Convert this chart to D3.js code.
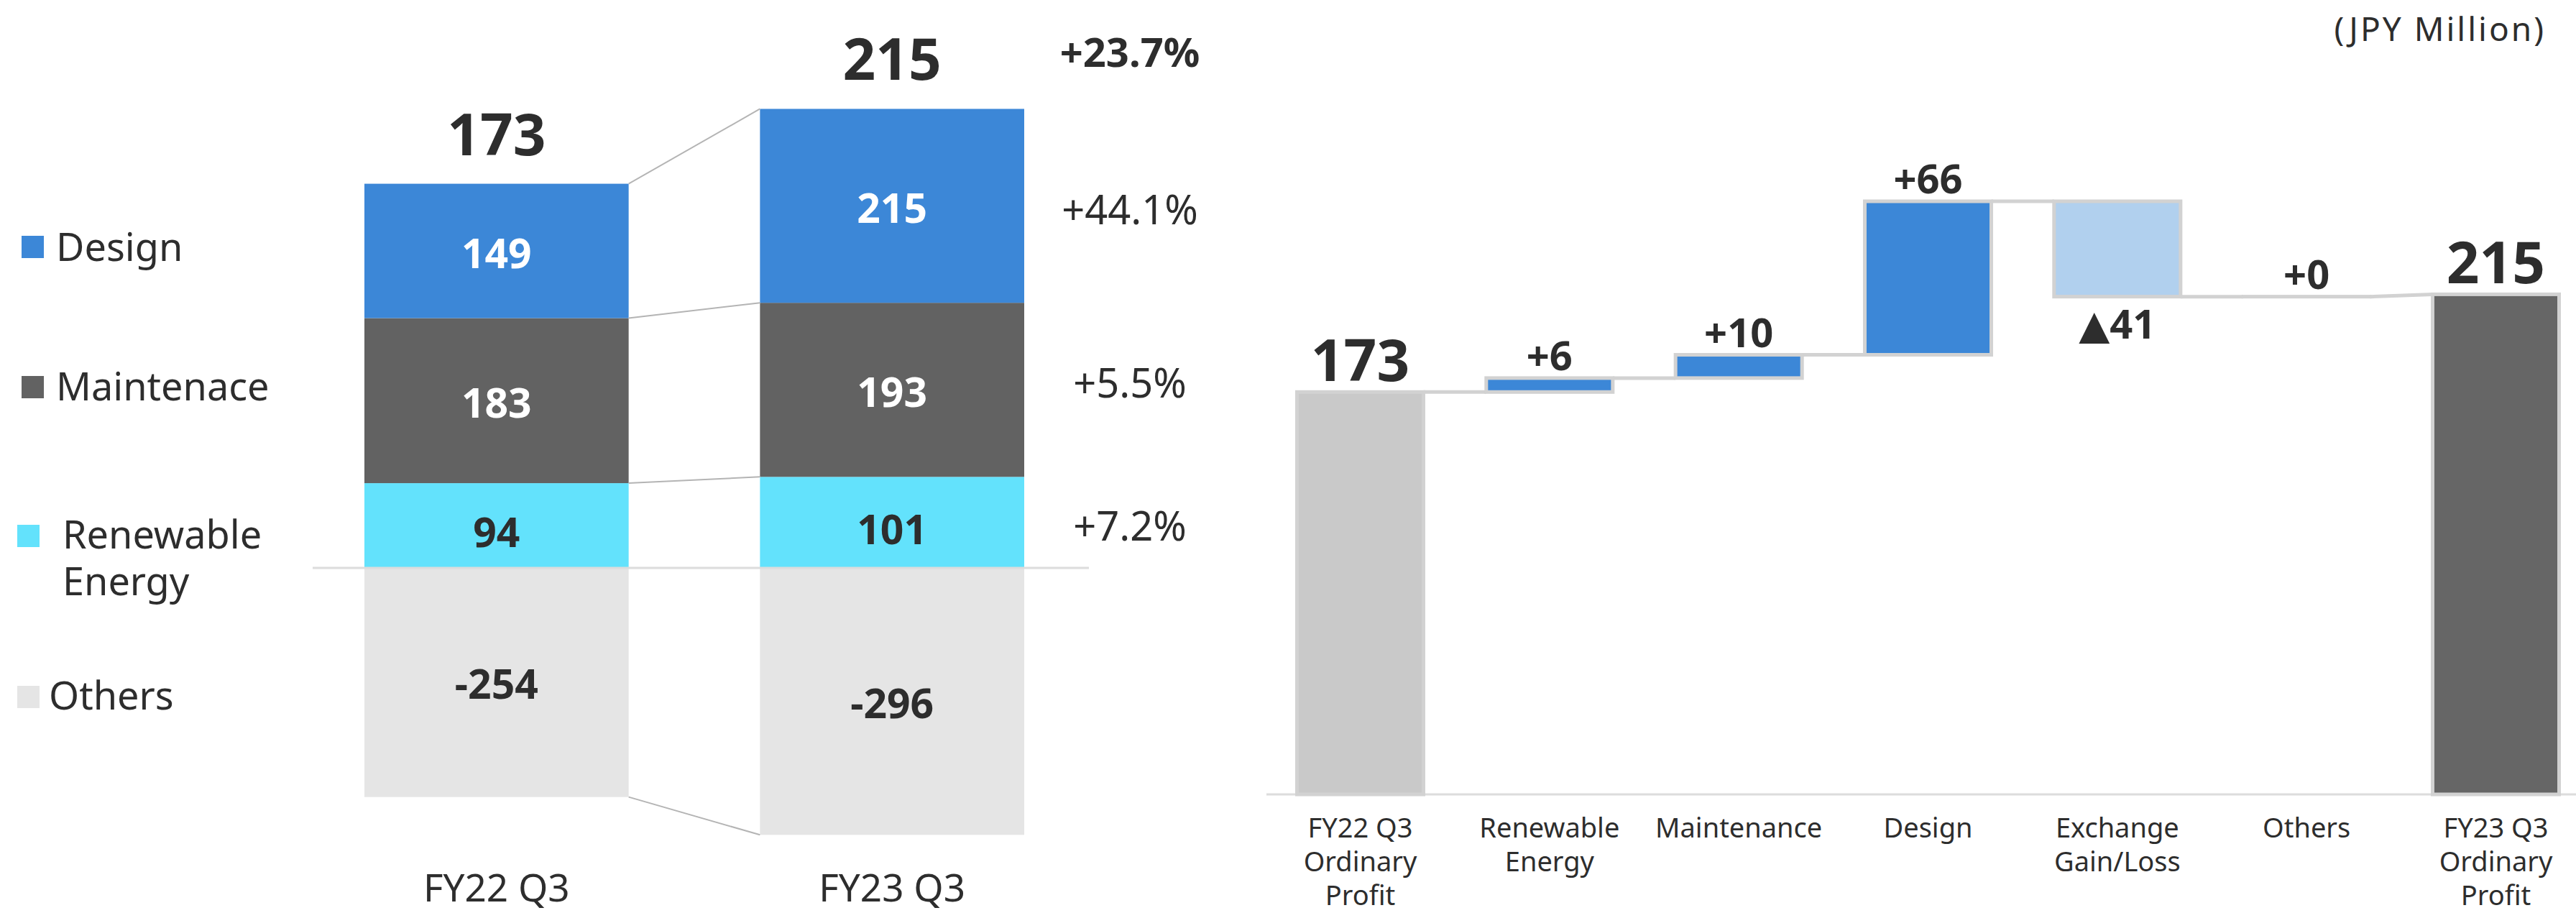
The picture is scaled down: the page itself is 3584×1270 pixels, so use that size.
<!DOCTYPE html>
<html>
<head>
<meta charset="utf-8">
<script src="https://cdn.jsdelivr.net/npm/d3@7"></script>
<style>
  html, body { margin: 0; padding: 0; background: #ffffff; }
  svg { display: block; }
  svg text { font-family: "Noto Sans", "DejaVu Sans", "Noto Sans CJK JP", sans-serif; }
</style>
</head>
<body>
<svg id="chart" width="3584" height="1270"></svg>
<script>
// ---------------- DATA ----------------
// Left: segment composition of ordinary profit
const periods = ["FY22 Q3", "FY23 Q3"];
const designVals = [149, 215];
const maintenanceVals = [183, 193];
const renewableVals = [94, 101];
const othersVals = [-254, -296];
const totalVals = [173, 215];
const growthLabels = ["+23.7%", "+44.1%", "+5.5%", "+7.2%"]; // total, design, maintenance, renewable
const legendNames = ["Design", "Maintenace", "Renewable\nEnergy", "Others"];

// Right: ordinary profit bridge (waterfall)
const wfCategories = ["FY22 Q3\nOrdinary\nProfit", "Renewable\nEnergy", "Maintenance", "Design", "Exchange\nGain/Loss", "Others", "FY23 Q3\nOrdinary\nProfit"];
const wfValues = [173, 6, 10, 66, -41, 0, 215];
const wfTypes = ["total", "delta", "delta", "delta", "delta", "delta", "total"];
const wfLabels = ["173", "+6", "+10", "+66", "▲41", "+0", "215"];
const unitLabel = "(JPY Million)";

// ---------------- STYLE ----------------
const FONT = '"Noto Sans", "DejaVu Sans", "Noto Sans CJK JP", sans-serif';
const C = {
  design: "#3C87D7", maint: "#626262", renew: "#63E2FC", others: "#E5E5E5",
  text: "#2D2D2D", conn: "#B4B4B4", zero: "#DCDCDC",
  wfStart: "#C9C9C9", wfUp: "#3C87D7", wfDown: "#B1D0EE", wfEnd: "#666666", wfStroke: "#D2D2D2"
};

const svg = d3.select("#chart");

// ================= LEFT CHART =================
const rows = periods.map((p, i) => ({
  period: p, renew: renewableVals[i], maint: maintenanceVals[i], design: designVals[i], others: othersVals[i]
}));
const keys = ["renew", "maint", "design", "others"];
const colorOf = { renew: C.renew, maint: C.maint, design: C.design, others: C.others };
const stacked = d3.stack().keys(keys).offset(d3.stackOffsetDiverging)(rows);

const k = 1.2545;           // px per unit
const zeroY = 790;
const yL = d3.scaleLinear().domain([-300, 520]).range([zeroY + 300 * k, zeroY - 520 * k]);
const xL = d3.scaleBand().domain(periods).range([507, 1425]).paddingInner(0.332).paddingOuter(0);
const bwL = xL.bandwidth();

const left = svg.append("g");

// bars
const layer = left.selectAll("g.layer").data(stacked).join("g").attr("class", "layer")
  .attr("fill", d => colorOf[d.key]);
layer.selectAll("rect").data(d => d).join("rect")
  .attr("x", d => xL(d.data.period))
  .attr("width", bwL)
  .attr("y", d => yL(Math.max(d[0], d[1])))
  .attr("height", d => Math.abs(yL(d[0]) - yL(d[1])));

// zero line
left.append("line")
  .attr("x1", 435).attr("x2", 1515)
  .attr("y1", yL(0)).attr("y2", yL(0))
  .attr("stroke", C.zero).attr("stroke-width", 3);

// connectors between the two columns
const boundaryLevels = periods.map((p, i) => [
  renewableVals[i] + maintenanceVals[i] + designVals[i],
  renewableVals[i] + maintenanceVals[i],
  renewableVals[i],
  othersVals[i]
]);
[0, 1, 2, 3].forEach(j => {
  left.append("line")
    .attr("x1", xL(periods[0]) + bwL).attr("y1", yL(boundaryLevels[0][j]))
    .attr("x2", xL(periods[1])).attr("y2", yL(boundaryLevels[1][j]))
    .attr("stroke", C.conn).attr("stroke-width", 2);
});

// in-bar value labels
const labelStyle = { design: "#ffffff", maint: "#ffffff", renew: C.text, others: C.text };
const labelOffset = { design: 24, maint: 24, renew: 30, others: 23 };
stacked.forEach(s => {
  left.selectAll(null).data(s).join("text")
    .attr("x", d => xL(d.data.period) + bwL / 2)
    .attr("y", d => (yL(d[0]) + yL(d[1])) / 2 + labelOffset[s.key])
    .attr("text-anchor", "middle")
    .attr("font-size", 57).attr("font-weight", 700)
    .attr("fill", labelStyle[s.key])
    .text(d => d.data[s.key]);
});

// totals above bars
left.selectAll(null).data(periods).join("text")
  .attr("x", d => xL(d) + bwL / 2)
  .attr("y", (d, i) => yL(boundaryLevels[i][0]) - 40)
  .attr("text-anchor", "middle")
  .attr("font-size", 80).attr("font-weight", 700).attr("fill", C.text)
  .text((d, i) => totalVals[i]);

// growth labels
const gx = 1572;
const growthY = [
  yL(boundaryLevels[1][0]) - 58,
  (yL(boundaryLevels[1][0]) + yL(boundaryLevels[1][1])) / 2 + 26,
  (yL(boundaryLevels[1][1]) + yL(boundaryLevels[1][2])) / 2 + 11,
  (yL(boundaryLevels[1][2]) + yL(0)) / 2 + 25
];
left.selectAll(null).data(growthLabels).join("text")
  .attr("x", gx).attr("y", (d, i) => growthY[i])
  .attr("text-anchor", "middle")
  .attr("font-size", 56).attr("font-weight", (d, i) => i === 0 ? 700 : 400)
  .attr("fill", C.text)
  .text(d => d);

// x-axis labels (left)
const axL = left.append("g").attr("transform", `translate(0, ${yL(0)})`)
  .call(d3.axisBottom(xL).tickSize(0).tickPadding(0));
axL.attr("font-family", FONT);
axL.select(".domain").remove();
axL.selectAll(".tick text")
  .attr("dy", null).attr("y", 464)
  .attr("font-size", 53).attr("font-family", FONT).attr("fill", C.text);

// legend
const legendLayout = [
  { sx: 30, sy: 328, tx: 78, ty: 363 },
  { sx: 30, sy: 523, tx: 78, ty: 557 },
  { sx: 24, sy: 730, tx: 87, ty: 763 },
  { sx: 24, sy: 954, tx: 68, ty: 987 }
];
const legendColors = [C.design, C.maint, C.renew, C.others];
const lg = svg.append("g");
legendNames.forEach((name, i) => {
  const L = legendLayout[i];
  lg.append("rect").attr("x", L.sx).attr("y", L.sy).attr("width", 31).attr("height", 31)
    .attr("fill", legendColors[i]);
  name.split("\n").forEach((line, li) => {
    lg.append("text").attr("x", L.tx).attr("y", L.ty + li * 65)
      .attr("font-size", 54).attr("fill", C.text).text(line);
  });
});

// ================= RIGHT CHART (WATERFALL) =================
let running = 0;
const wf = wfCategories.map((c, i) => {
  let start, end;
  if (wfTypes[i] === "total") { start = 0; end = wfValues[i]; running = wfValues[i]; }
  else { start = running; end = running + wfValues[i]; running = end; }
  return { cat: c, start, end, value: wfValues[i], type: wfTypes[i], label: wfLabels[i], i };
});

const xR = d3.scaleBand().domain(wfCategories).range([1804.5, 3560.5]).paddingInner(0.3316).paddingOuter(0);
const bwR = xR.bandwidth();
const yR = d3.scaleLinear().domain([0, 255]).range([1105, 280]);

const right = svg.append("g");

// base line
right.append("line").attr("x1", 1762).attr("x2", 3584)
  .attr("y1", yR(0)).attr("y2", yR(0))
  .attr("stroke", "#DCDCDC").attr("stroke-width", 3);

function wfFill(d) {
  if (d.i === 0) return C.wfStart;
  if (d.i === wf.length - 1) return C.wfEnd;
  return d.value < 0 ? C.wfDown : C.wfUp;
}

// connectors
for (let i = 0; i < wf.length - 1; i++) {
  const a = wf[i], b = wf[i + 1];
  const toLevel = b.type === "total" ? b.end : b.start;
  right.append("line")
    .attr("x1", xR(a.cat) + bwR).attr("y1", yR(a.end))
    .attr("x2", xR(b.cat)).attr("y2", yR(toLevel))
    .attr("stroke", C.wfStroke).attr("stroke-width", 5);
}

// bars (zero-height bars still show their outline)
right.selectAll("rect.wf").data(wf).join("rect").attr("class", "wf")
  .attr("x", d => xR(d.cat))
  .attr("width", bwR)
  .attr("y", d => yR(Math.max(d.start, d.end)))
  .attr("height", d => Math.max(0.01, Math.abs(yR(d.start) - yR(d.end))))
  .attr("fill", wfFill)
  .attr("stroke", C.wfStroke).attr("stroke-width", 5);

// value labels
right.selectAll("text.val").data(wf).join("text").attr("class", "val")
  .attr("x", d => xR(d.cat) + bwR / 2)
  .attr("y", d => {
    if (d.type === "total") return yR(d.end) - 15;
    if (d.value < 0) return yR(Math.min(d.start, d.end)) + 58;
    return yR(d.end) - 11;
  })
  .attr("text-anchor", "middle")
  .attr("font-size", d => d.type === "total" ? 80 : 56)
  .attr("font-weight", 700)
  .attr("fill", C.text)
  .text(d => d.label);

// x axis labels
const axR = right.append("g").attr("transform", `translate(0, ${yR(0)})`)
  .call(d3.axisBottom(xR).tickSize(0).tickPadding(0));
axR.attr("font-family", FONT);
axR.select(".domain").remove();
axR.selectAll(".tick text")
  .attr("dy", null).attr("y", 0)
  .attr("font-size", 38).attr("font-family", FONT).attr("fill", C.text)
  .each(function(d) {
    const t = d3.select(this);
    t.text(null);
    d.split("\n").forEach((line, li) => {
      t.append("tspan").attr("x", 0).attr("y", 60 + li * 47).text(line);
    });
  });

// unit label
svg.append("text").attr("x", 3542).attr("y", 57)
  .attr("text-anchor", "end")
  .attr("font-size", 46).attr("letter-spacing", 3)
  .attr("fill", C.text)
  .text(unitLabel);
</script>
</body>
</html>
